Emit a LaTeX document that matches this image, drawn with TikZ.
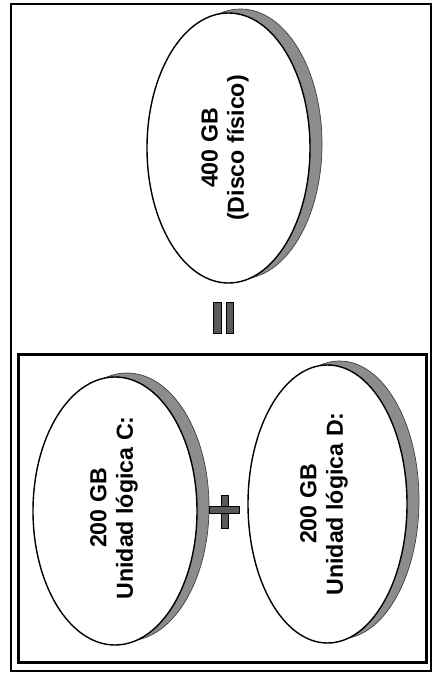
\documentclass[tikz,border=0pt]{standalone}
\usepackage{fontspec}
\setmainfont{Liberation Sans}
\usepackage{tikz}

\begin{document}
\begin{tikzpicture}[scale=0.2]
\tikzstyle{every node}+=[inner sep=0pt]
\tikzstyle{disco}=[draw=black, fill=white, line width=0.8pt]
\tikzstyle{sombra}=[draw=black!75, fill=black!45, line width=0.4pt]
\tikzstyle{signo}=[draw=black, fill=black!65, line width=0.5pt]
\tikzstyle{rotulo}=[rotate=90, align=center, font=\fontsize{13.2}{15}\selectfont\bfseries]
\useasboundingbox (0,0) rectangle (43.3,-67.5);
% marcos
\draw [black, line width=1.4pt] (1.1,-0.4) rectangle (43.1,-67.1);
\draw [black, line width=1.7pt] (1.85,-35.45) rectangle (42.6,-66.2);
% disco fisico
\draw [sombra] (24.05,-14.4) ellipse (8.15 and 13.5);
\draw [disco] (22.85,-14.8) ellipse (8.15 and 13.5);
\draw (22.5,-14.8) node [rotulo] (fisico) {400 GB\\(Disco físico)};
% signo igual
\draw [signo] (21.3,-30.2) rectangle (22.1,-33.3);
\draw [signo] (22.6,-30.2) rectangle (23.3,-33.3);
% unidad C:
\draw [sombra] (12.7,-50.7) ellipse (8.2 and 13.4);
\draw [disco] (11.5,-51.1) ellipse (8.2 and 13.4);
\draw (11.4,-50.8) node [rotulo] (logC) {200 GB\\Unidad lógica C:};
% signo mas
\draw [signo] (22.1,-49.5) rectangle (22.8,-52.8);
\draw [signo] (20.9,-50.6) rectangle (23.9,-51.3);
\fill [black!65] (22.15,-50.65) rectangle (22.75,-51.25);
% unidad D:
\draw [sombra] (33.95,-50.0) ellipse (7.95 and 13.9);
\draw [disco] (32.75,-50.4) ellipse (7.95 and 13.9);
\draw (32.4,-50.4) node [rotulo] (logD) {200 GB\\Unidad lógica D:};
\end{tikzpicture}
\end{document}
